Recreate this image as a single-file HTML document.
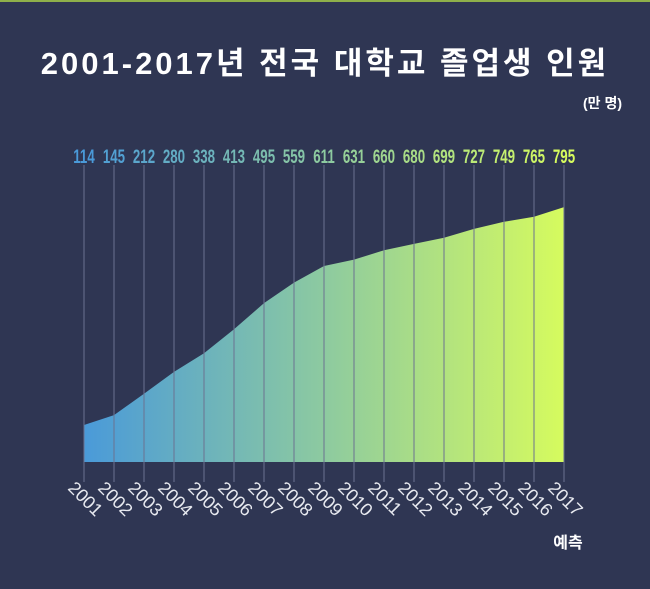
<!DOCTYPE html>
<html><head><meta charset="utf-8"><style>
body{margin:0;background:#2f3653;}
svg{display:block}
</style></head><body>
<svg width="650" height="589" xmlns="http://www.w3.org/2000/svg">
<defs><linearGradient id="g" x1="84" y1="0" x2="564" y2="0" gradientUnits="userSpaceOnUse">
<stop offset="0" stop-color="#4a9ad9"/><stop offset="0.5" stop-color="#8dcaa0"/><stop offset="1" stop-color="#d6fb5e"/></linearGradient></defs>
<rect width="650" height="589" fill="#2f3653"/>
<rect x="0" y="0" width="650" height="2" fill="#8fb04a"/>
<text x="325" y="74" text-anchor="middle" fill="#fff" font-family="'Liberation Sans','Noto Sans CJK KR',sans-serif" font-weight="bold" font-size="31" letter-spacing="3">2001-2017년 전국 대학교 졸업생 인원</text>
<text x="622" y="108" text-anchor="end" fill="#fff" font-family="'Liberation Sans','Noto Sans CJK KR',sans-serif" font-weight="bold" font-size="14">(만 명)</text>
<script>
var v=[114,145,212,280,338,413,495,559,611,631,660,680,699,727,749,765,795];
var ns="http://www.w3.org/2000/svg",s=document.querySelector('svg');
function y(a){return 461.5-a*0.32;}
var d="M84,462";v.forEach(function(a,i){d+=" L"+(84+30*i)+","+y(a).toFixed(1);});d+=" L564,462 Z";
var p=document.createElementNS(ns,'path');p.setAttribute('d',d);p.setAttribute('fill','url(#g)');s.appendChild(p);
function col(t){var c0=[74,154,217],c1=[141,202,160],c2=[214,251,94],a,b,u;if(t<.5){a=c0;b=c1;u=t*2}else{a=c1;b=c2;u=(t-.5)*2}
return 'rgb('+a.map(function(x,k){return Math.round(x+(b[k]-x)*u)}).join(',')+')';}
v.forEach(function(a,i){var x=84+30*i;
var l=document.createElementNS(ns,'line');l.setAttribute('x1',x);l.setAttribute('x2',x);l.setAttribute('y1',165);l.setAttribute('y2',482);l.setAttribute('stroke','#6b7290');l.setAttribute('stroke-width','1');s.appendChild(l);
var t=document.createElementNS(ns,'text');t.setAttribute('x',x);t.setAttribute('y',163);t.setAttribute('text-anchor','middle');t.setAttribute('fill',col(i/16));t.setAttribute('font-family','Liberation Sans,sans-serif');t.setAttribute('font-weight','bold');t.setAttribute('font-size','19');t.setAttribute('transform','translate('+x+',0) scale(0.7,1) translate('+(-x)+',0)');t.textContent=a;s.appendChild(t);
var y2=document.createElementNS(ns,'text');y2.setAttribute('x',0);y2.setAttribute('y',0);y2.setAttribute('fill','#e8eaf0');y2.setAttribute('font-family','Liberation Sans,sans-serif');y2.setAttribute('font-size','18');y2.setAttribute('transform','translate('+(x-17)+',489) rotate(45)');y2.textContent=2001+i;s.appendChild(y2);
});
</script>
<text x="568" y="548" text-anchor="middle" fill="#fff" font-family="'Liberation Sans','Noto Sans CJK KR',sans-serif" font-weight="bold" font-size="16">예측</text>
</svg>
</body></html>
